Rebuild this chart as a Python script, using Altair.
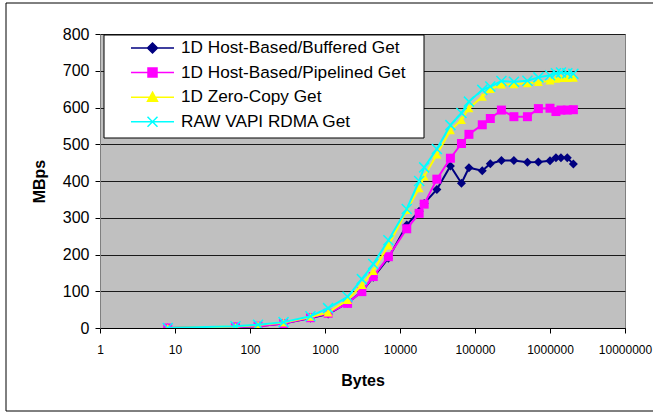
import altair as alt
import pandas as pd

# ---- data ----
series_names = [
    "1D Host-Based/Buffered Get",
    "1D Host-Based/Pipelined Get",
    "1D Zero-Copy Get",
    "RAW VAPI RDMA Get",
]
bytes_sizes = [8, 64, 128, 280, 640, 1100, 2000, 3100, 4400, 7000, 12300, 18000,
               21000, 31000, 47000, 66000, 83000, 125000, 160000, 225000, 330000,
               500000, 700000, 1000000, 1200000, 1400000, 1700000, 2050000]
buffered = [0, 3, 5, 12, 27, 38, 68, 99, 138, 190, 280, 318, 339, 377, 441, 394,
            436, 428, 447, 456, 456, 451, 452, 455, 463, 463, 463, 446]
pipelined = [0, 3, 5, 12, 28, 40, 67, 99, 140, 194, 270, 312, 337, 405, 462, 502,
             527, 553, 570, 593, 575, 575, 597, 598, 589, 593, 593, 594]
zero_copy = [0, 4, 8, 15, 30, 42, 76, 117, 155, 224, 321, 380, 412, 472, 538, 566,
             598, 629, 650, 662, 663, 666, 669, 673, 678, 680, 680, 681]
raw_vapi = [0, 5, 9, 16, 32, 54, 85, 133, 174, 239, 324, 400, 437, 487, 552, 585,
            616, 648, 657, 672, 670, 673, 682, 688, 693, 695, 693, 692]
x_ticks = [1, 10, 100, 1000, 10000, 100000, 1000000, 10000000]
y_ticks = [0, 100, 200, 300, 400, 500, 600, 700, 800]

colors = ["#000080", "#FF00FF", "#FFFF00", "#00FFFF"]
shapes = ["diamond", "square", "triangle-up", "M-1,-1L1,1M-1,1L1,-1"]
legend_paths = [
    "M1,0L5.3,0M3.15,-0.5L3.65,0L3.15,0.5L2.65,0Z",
    "M1,0L5.3,0M2.7,-0.45L3.6,-0.45L3.6,0.45L2.7,0.45Z",
    "M1,0L5.3,0M3.15,-0.5L3.65,0.4L2.65,0.4Z",
    "M1,0L5.3,0M2.65,-0.5L3.65,0.5M2.65,0.5L3.65,-0.5",
]

rows = []
for name, vals in zip(series_names, [buffered, pipelined, zero_copy, raw_vapi]):
    for b, v in zip(bytes_sizes, vals):
        rows.append({"series": name, "bytes": b, "mbps": v})
df = pd.DataFrame(rows)

FONT = "Liberation Sans"

x_enc = alt.X(
    "bytes:Q",
    scale=alt.Scale(type="log", domain=[1, 10000000]),
    axis=alt.Axis(
        values=x_ticks, format="d", grid=False, tickSize=5, tickColor="#000000",
        domainColor="#000000", labelFont=FONT, labelFontSize=12, labelColor="#000000",
        labelPadding=11, labelFlush=False, labelOverlap=False,
        title="Bytes", titleFont=FONT, titleFontSize=16, titleFontWeight="bold",
        titleColor="#000000", titlePadding=17,
    ),
)
y_enc = alt.Y(
    "mbps:Q",
    scale=alt.Scale(domain=[0, 800], nice=False),
    axis=alt.Axis(
        values=y_ticks, grid=True, gridColor="#1a1a1a", gridWidth=1, tickSize=5,
        tickColor="#000000", domainColor="#808080", labelFont=FONT, labelFontSize=16,
        labelColor="#000000", labelPadding=6,
        title="MBps", titleFont=FONT, titleFontSize=16, titleFontWeight="bold",
        titleColor="#000000", titlePadding=15,
    ),
)

base = alt.Chart(df)
layers = []
for i, name in enumerate(series_names):
    sub = base.transform_filter(alt.datum.series == name)
    layers.append(sub.mark_line(color=colors[i], strokeWidth=2, clip=True).encode(x=x_enc, y=y_enc))
    if i == 3:
        pt = sub.mark_point(shape=shapes[i], filled=False, size=100, strokeWidth=1.5,
                            color=colors[i], opacity=1, clip=True)
    else:
        pt = sub.mark_point(shape=shapes[i], filled=True, size=81, color=colors[i],
                            opacity=1, clip=True)
    layers.append(pt.encode(x=x_enc, y=y_enc))

# legend box and outer frame (decoration)
one = pd.DataFrame({"k": [0]})
legend_box = alt.Chart(one).mark_rect(fill="#FFFFFF", stroke="#000000", strokeWidth=1).encode(
    x=alt.value(4), x2=alt.value(324), y=alt.value(1), y2=alt.value(104)
)
frame = alt.Chart(one).mark_rect(fill=None, stroke="#000000", strokeWidth=1, clip=False).encode(
    x=alt.value(-94), x2=alt.value(560), y=alt.value(-31), y2=alt.value(377)
)

leg = alt.Legend(
    orient="none", legendX=10, legendY=3, title=None, padding=0, symbolSize=400,
    symbolStrokeWidth=1.5, symbolOpacity=1, labelFont=FONT, labelFontSize=17.2,
    labelColor="#000000", labelOffset=49, rowPadding=4.6, labelLimit=400,
)
legend_df = pd.DataFrame({"series": series_names})
legend_layer = alt.Chart(legend_df).mark_point(filled=True, opacity=1, clip=True).encode(
    x=alt.value(10), y=alt.value(-300),
    shape=alt.Shape("series:N", scale=alt.Scale(domain=series_names, range=legend_paths), legend=leg),
    fill=alt.Fill("series:N", scale=alt.Scale(domain=series_names, range=colors), legend=leg),
    stroke=alt.Stroke("series:N", scale=alt.Scale(domain=series_names, range=colors), legend=leg),
)

chart = alt.layer(frame, *layers, legend_box, legend_layer).properties(
    width=525, height=294,
    autosize=alt.AutoSizeParams(type="none"),
    padding={"left": 100, "top": 34, "right": 28, "bottom": 85},
    background="#FFFFFF",
).configure_view(fill="#C0C0C0", stroke="#808080", strokeWidth=1)

chart.save("out.html", embed_options={"renderer": "svg", "actions": False})
